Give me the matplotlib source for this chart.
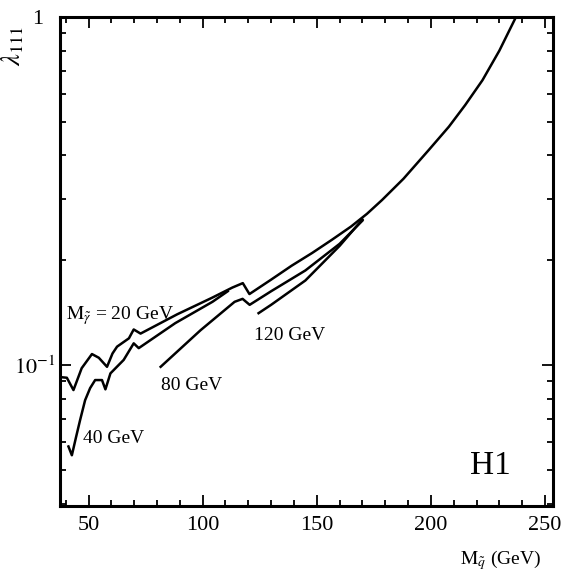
import numpy as np
import matplotlib
matplotlib.use("Agg")
import matplotlib.pyplot as plt
from matplotlib.ticker import LogLocator, MultipleLocator, NullFormatter

plt.rcParams['font.family'] = ['Liberation Serif', 'DejaVu Serif']
plt.rcParams['mathtext.fontset'] = 'stix'

# limit curves: squark mass (GeV) vs lambda_111
m20 = [37.5, 40.5, 43.4, 47.0, 51.5, 54.5, 58.1, 60.5, 62.5, 67.7, 69.8, 72.8,
       88.9, 104.0, 113.0, 117.6, 120.5, 130.0, 139.0, 148.0, 156.6, 165.0,
       172.0, 178.6, 188.0, 199.1, 207.9, 215.0, 222.6, 230.0, 237.3]
l20 = [0.0924, 0.0920, 0.0848, 0.0980, 0.1076, 0.1050, 0.0989, 0.1080, 0.1130,
       0.1194, 0.1266, 0.1232, 0.1400, 0.1560, 0.1670, 0.1720, 0.1600, 0.1760,
       0.1930, 0.2100, 0.2290, 0.2500, 0.2720, 0.2980, 0.3430, 0.4150, 0.4840,
       0.5580, 0.6580, 0.8000, 1.0000]

m40 = [41.2, 42.7, 44.5, 46.3, 48.5, 50.7, 52.9, 55.9, 57.4, 59.6, 65.4, 69.8,
       72.0, 88.0, 104.3, 111.0]
l40 = [0.0584, 0.0551, 0.0620, 0.0695, 0.0793, 0.0859, 0.0906, 0.0906, 0.0852,
       0.0947, 0.1035, 0.1155, 0.1119, 0.1320, 0.1520, 0.1630]

m80 = [81.6, 99.1, 114.0, 117.5, 120.6, 130.0, 145.0, 160.0, 170.0]
l80 = [0.0989, 0.1260, 0.1520, 0.1550, 0.1490, 0.1630, 0.1870, 0.2230, 0.2600]

m120 = [124.5, 130.0, 145.0, 160.0, 170.0]
l120 = [0.1410, 0.1490, 0.1750, 0.2200, 0.2620]

fig = plt.figure(figsize=(5.66, 5.74), dpi=100)
ax = fig.add_axes([0.106, 0.1185, 0.871, 0.852])

for m, l in [(m20, l20), (m40, l40), (m80, l80), (m120, l120)]:
    ax.plot(m, l, color='black', lw=1.8, solid_joinstyle='round')

ax.set_yscale('log')
ax.set_xlim(37.5, 253.5)
ax.set_ylim(0.0394, 1.0)

ax.xaxis.set_major_locator(MultipleLocator(50))
ax.xaxis.set_minor_locator(MultipleLocator(10))
ax.set_yticks([0.1, 1.0])
ax.set_yticklabels(['$10^{-1}$', ''])
ax.yaxis.set_minor_locator(LogLocator(base=10, subs=np.arange(2, 10)))
ax.yaxis.set_minor_formatter(NullFormatter())
# the "1" sits further left than the 10^-1 label in the original
ax.text(-0.034, 0.98, '1', transform=ax.get_yaxis_transform(),
        fontsize=16, ha='right', va='center')

ax.tick_params(which='both', direction='in', top=True, right=True, width=1.3)
ax.tick_params(which='major', length=8, labelsize=16)
ax.tick_params(axis='x', which='major', pad=7)
ax.tick_params(which='minor', length=4)
for s in ax.spines.values():
    s.set_linewidth(2.2)

ax.text(40.2, 0.139, r'$\mathrm{M}_{\tilde{\gamma}}$ = 20 GeV', fontsize=14, va='center')
ax.text(47.7, 0.0617, '40 GeV', fontsize=14, va='center')
ax.text(81.6, 0.0875, '80 GeV', fontsize=14, va='center')
ax.text(122.5, 0.1220, '120 GeV', fontsize=14, va='center')
ax.text(226, 0.0515, 'H1', fontsize=24, va='center', ha='center')

fig.text(0.023, 0.92, r'$\lambda_{111}$', rotation=90, fontsize=19,
         ha='center', va='center')
fig.text(0.885, 0.024, r'$\mathrm{M}_{\tilde{q}}$ (GeV)', fontsize=14,
         ha='center', va='center')

fig.savefig('out.png', dpi=100)
